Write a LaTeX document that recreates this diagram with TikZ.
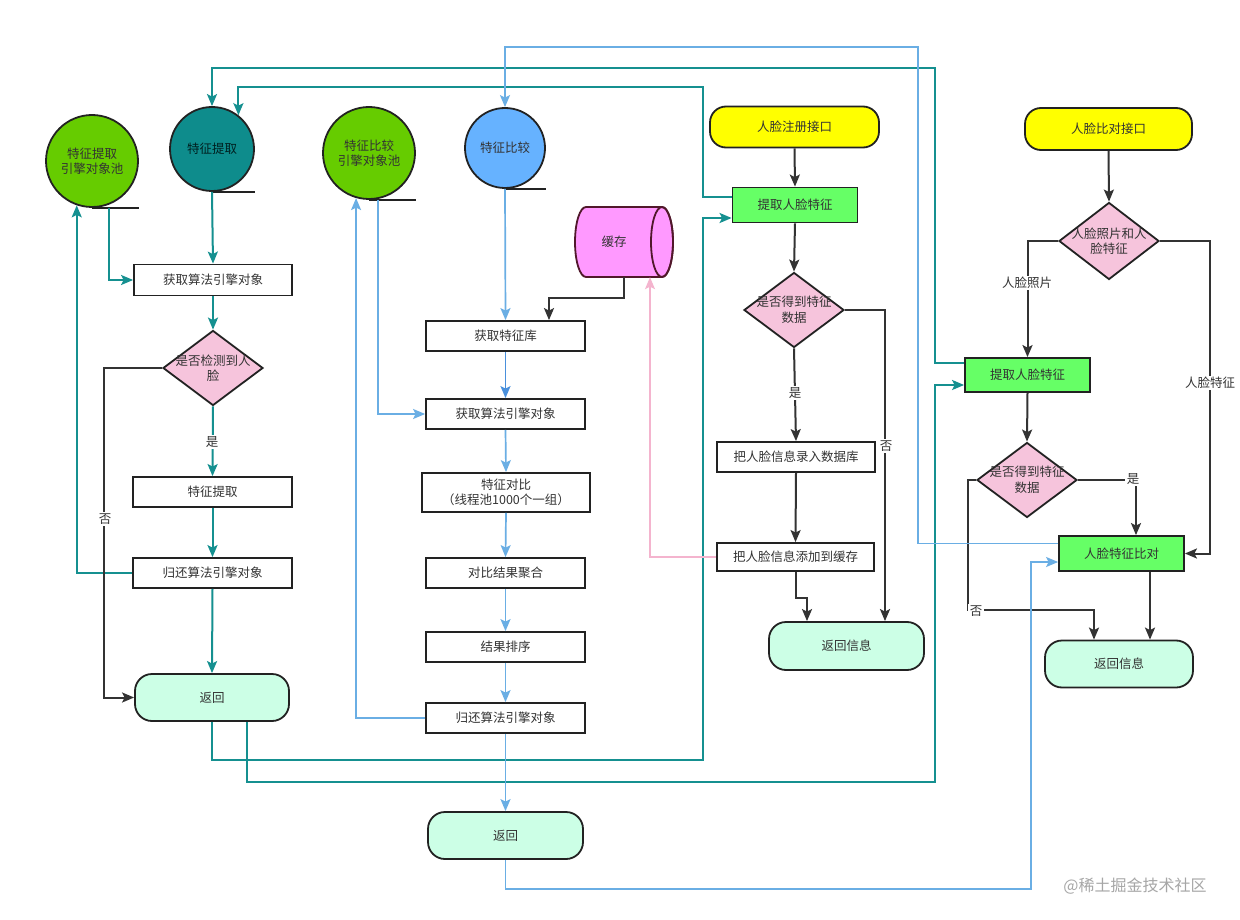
\documentclass[tikz,border=0pt]{standalone}
\usepackage{fontspec}
\setmainfont{Noto Sans CJK SC}
\usetikzlibrary{arrows.meta,shapes.geometric,calc}
\newcommand\fsz{\fontsize{12.5}{15.5}\selectfont}
\definecolor{tealc}{HTML}{159090}
\definecolor{tealfill}{HTML}{0E8C8C}
\definecolor{greenc}{HTML}{66CC00}
\definecolor{bluefill}{HTML}{66B2FF}
\definecolor{bluec}{HTML}{6AAEE4}
\definecolor{bluedk}{HTML}{4A90DC}
\definecolor{pinkc}{HTML}{F4B4CE}
\definecolor{cylc}{HTML}{FF99FF}
\definecolor{yelc}{HTML}{FFFF00}
\definecolor{gboxc}{HTML}{66FF66}
\definecolor{diac}{HTML}{F6C4DC}
\definecolor{mintc}{HTML}{CCFFE6}
\definecolor{edgec}{HTML}{222222}
\definecolor{darkc}{HTML}{333333}
\definecolor{txtc}{HTML}{333333}
\begin{document}
\begin{tikzpicture}[x=1pt,y=-1pt,
  every node/.style={font=\fsz, text=txtc},
  box/.style={draw=edgec, line width=1.8pt, fill=white, inner sep=0pt, minimum width=159pt, minimum height=30pt, align=center},
  gbox/.style={box, fill=gboxc, minimum width=125pt, minimum height=35pt},
  term/.style={draw=edgec, line width=1.8pt, fill=mintc, rounded corners=17pt, inner sep=0pt, minimum width=155pt, minimum height=47pt},
  yterm/.style={term, fill=yelc, rounded corners=16pt, minimum height=41pt},
  dia/.style={diamond, draw=edgec, line width=1.8pt, fill=diac, inner sep=0pt, minimum width=100pt, minimum height=75pt},
  pool/.style={circle, draw=edgec, line width=1.8pt, inner sep=0pt, align=center},
  tail/.style={draw=edgec, line width=1.8pt},
  arr/.style={-{Stealth[length=12pt,width=10pt,inset=2.5pt]}},
  tc/.style={arr, draw=tealc, color=tealc, line width=2pt},
  bc/.style={arr, draw=bluec, color=bluec, line width=1.7pt},
  kc/.style={arr, draw=darkc, color=darkc, line width=2pt},
  pc/.style={arr, draw=pinkc, color=pinkc, line width=1.1pt},
  lbl/.style={fill=white, inner sep=1.5pt},
]
\useasboundingbox[fill=white] (0,0) rectangle (1240,920);

% cylinder (cache)
\fill[cylc] (586,207) -- (662,207) arc[start angle=-90, end angle=90, x radius=11, y radius=35] -- (586,277) arc[start angle=90, end angle=270, x radius=11, y radius=35] -- cycle;
\draw[edgec!70!purple, line width=1.8pt] (586,207) -- (662,207) arc[start angle=-90, end angle=90, x radius=11, y radius=35] -- (586,277) arc[start angle=90, end angle=270, x radius=11, y radius=35] -- cycle;
\draw[edgec!70!purple, line width=1.8pt] (662,242) ellipse[x radius=11, y radius=35];
\node[minimum width=97pt, minimum height=70pt, inner sep=0pt] (cache) at (624,242) {};
\node (cachet) at (614,242) {缓存};

% circles
\node[pool, fill=greenc, minimum size=92pt] (pool1) at (92,161) {特征提取\\引擎对象池};
\node[pool, fill=tealfill, minimum size=84pt, text=black!75!teal] (fe) at (212,149) {特征提取};
\node[pool, fill=greenc, minimum size=92pt] (pool2) at (369,153) {特征比较\\引擎对象池};
\node[pool, fill=bluefill, minimum size=80pt] (fc) at (505,148) {特征比较};
\foreach \c in {pool1,fe,pool2,fc} \draw[tail] (\c.south) -- (\c.south -| \c.east);

% left column
\node[box, minimum width=158pt, minimum height=31pt] (get1) at (213,280) {获取算法引擎对象};
\node[dia] (d2) at (213,368) {};
\node[box] (fx) at (212.5,492) {特征提取};
\node[box] (back1) at (212.5,573) {归还算法引擎对象};
\node[term, minimum width=154pt] (ret1) at (212,697.5) {返回};

% middle column
\node[box] (lib) at (505.5,336) {获取特征库};
\node[box] (get2) at (505.5,414) {获取算法引擎对象};
\node[box, minimum width=168pt, minimum height=39pt] (cmpx) at (506,492.5) {特征对比\\（线程池1000个一组）};
\node[box] (agg) at (505.5,573) {对比结果聚合};
\node[box] (sort) at (505.5,647) {结果排序};
\node[box] (back2) at (505.5,718) {归还算法引擎对象};
\node[term] (ret2) at (505.5,835.5) {返回};

% register column
\node[yterm, minimum width=169pt] (reg) at (794.5,127) {人脸注册接口};
\node[gbox] (ex1) at (795,205) {提取人脸特征};
\node[dia] (d1) at (794,310) {};
\node[box, minimum width=158pt] (db) at (796,457) {把人脸信息录入数据库};
\node[box, minimum width=157pt, minimum height=28pt] (addc) at (795.5,557) {把人脸信息添加到缓存};
\node[term, minimum width=155pt, minimum height=48pt] (ret3) at (846.5,646) {返回信息};

% compare column
\node[yterm, minimum width=167pt, minimum height=42pt] (cmp) at (1108.5,129) {人脸比对接口};
\node[dia, minimum height=77pt] (d3) at (1109,241) {};
\node[gbox, minimum height=34pt] (ex2) at (1027.5,375) {提取人脸特征};
\node[dia] (d4) at (1027,480) {};
\node[gbox] (fcmp) at (1121.5,553.5) {人脸特征比对};
\node[term, minimum width=148pt] (ret4) at (1119,664) {返回信息};

% diamond texts
\node[align=center] (d2t) at (d2) {是否检测到人\\脸};
\node[align=center] (d1t) at (d1) {是否得到特征\\数据};
\node[align=center] (d3t) at (d3) {人脸照片和人\\脸特征};
\node[align=center] (d4t) at (d4) {是否得到特征\\数据};

% teal connectors
\draw[tc] (fe.south) -- (get1.north);
\draw[tc] ($(pool1.south)+(17,0)$) |- (get1.west);
\draw[tc] (get1.south) -- (d2.north);
\draw[tc] (d2.south) -- (fx.north);
\draw[tc] (fx.south) -- (back1.north);
\draw[tc] (back1.south) -- (ret1.north);
\draw[tc] (back1.west) -| (pool1.251);
\coordinate (t1) at (703,760);
\draw[tc] (ret1.south) |- (t1) |- ($(ex1.west)+(0,13)$);
\coordinate (t2) at (935,782);
\draw[tc] ($(ret1.south)+(35,0)$) |- (t2) |- ($(ex2.west)+(0,10)$);
\coordinate (t3) at (703,87);
\draw[tc] ($(ex1.west)+(0,-8)$) -| (t3) -| (fe.52);
\coordinate (t4) at (935,68);
\draw[tc] ($(ex2.west)+(0,-12)$) -| (t4) -| (fe.north);

% black
\draw[kc] (d2.west) -- ++(-58,0) |- (ret1.west);
\draw[kc] (cache.south) -- ++(0,21) -| ($(lib.north)+(43.5,0)$);
\draw[kc] (reg.south) -- (ex1.north);
\draw[kc] (ex1.south) -- (d1.north);
\draw[kc] (d1.south) -- (db.north);
\draw[kc] (db.south) -- (addc.north);
\draw[kc] (addc.south) -- ++(0,26) -| ($(ret3.north)+(-39.5,0)$);
\draw[kc] (d1.east) -| ($(ret3.north)+(38.5,0)$);
\draw[kc] (cmp.south) -- (d3.north);
\draw[kc] (d3.west) -| (ex2.north);
\coordinate (r1) at (1210,553.5);
\draw[kc] (d3.east) -| (r1) -- (fcmp.east);
\draw[kc] (ex2.south) -- (d4.north);
\draw[kc] (d4.east) -| ($(fcmp.north)+(14.5,0)$);
\draw[kc] (d4.west) -- ++(-8,0) |- ($(ret4.north)+(-25,-30)$) -- ($(ret4.north)+(-25,0)$);
\draw[kc] ($(fcmp.south)+(28.5,0)$) -- ($(ret4.north)+(31,0)$);

% blue
\draw[bc] (fc.south) -- (lib.north);
\draw[bc, draw=bluedk, color=bluedk] (lib.south) -- (get2.north);
\draw[bc] (get2.south) -- (cmpx.north);
\draw[bc] (cmpx.south) -- (agg.north);
\draw[bc] (agg.south) -- (sort.north);
\draw[bc] (sort.south) -- (back2.north);
\draw[bc] (back2.south) -- (ret2.north);
\draw[bc] (back2.west) -| (pool2.254);
\draw[bc] ($(pool2.south)+(9,0)$) |- (get2.west);
\coordinate (b1) at (918,47);
\draw[bc, line width=1.5pt] ($(fcmp.west)+(0,-10)$) -| (b1) -| (fc.north);
\coordinate (b2) at (1031,889);
\draw[bc, line width=1.5pt] (ret2.south) |- (b2) |- ($(fcmp.west)+(0,8.5)$);

% pink
\draw[pc] (addc.west) -| ($(cache.south)+(26,0)$);

% labels
\node[lbl] (l1) at (212,442) {是};
\node[lbl] (l2) at (105,519) {否};
\node[lbl] (l3) at (795,393) {是};
\node[lbl] (l4) at (886,446) {否};
\node[lbl] (l5) at (1027,283) {人脸照片};
\node[lbl] (l6) at (1210,383) {人脸特征};
\node[lbl] (l7) at (1133,479) {是};
\node[lbl] (l8) at (976,611) {否};

\node[text=black!35, font=\fontsize{16}{18}\selectfont] (wm) at (1135,886) {@稀土掘金技术社区};
\end{tikzpicture}
\end{document}
